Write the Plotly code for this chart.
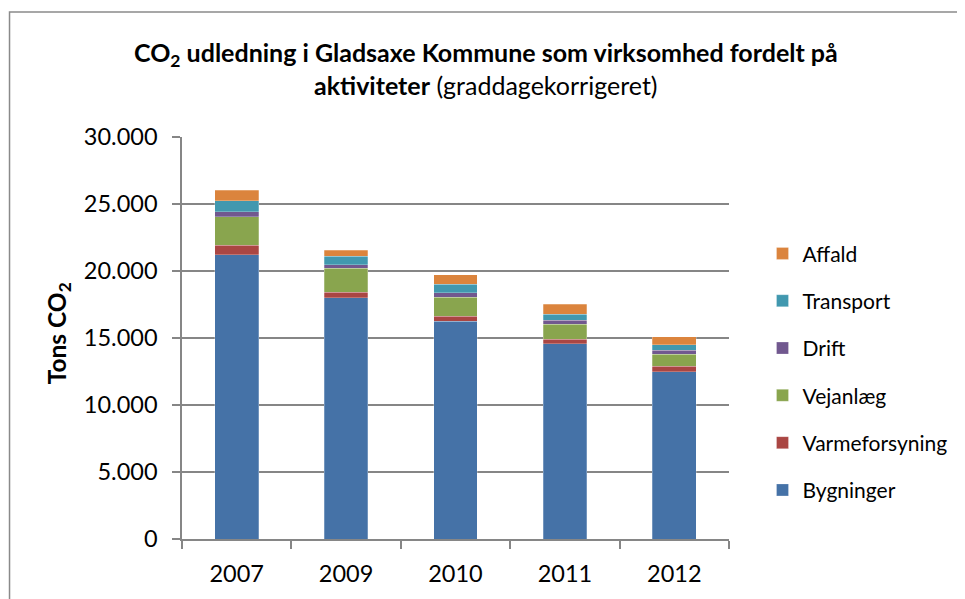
import plotly.graph_objects as go

years = ["2007", "2009", "2010", "2011", "2012"]
bygninger = [21200, 18000, 16250, 14570, 12500]
varmeforsyning = [740, 420, 370, 340, 410]
vejanlaeg = [2100, 1780, 1440, 1110, 890]
drift = [400, 270, 300, 300, 275]
transport = [790, 620, 670, 470, 420]
affald = [790, 450, 690, 740, 590]

series = [
    ("Bygninger", bygninger, "#4572A7"),
    ("Varmeforsyning", varmeforsyning, "#AA4643"),
    ("Vejanlæg", vejanlaeg, "#89A54E"),
    ("Drift", drift, "#71588F"),
    ("Transport", transport, "#4198AF"),
    ("Affald", affald, "#DB843D"),
]

FONT = "Lato"
fig = go.Figure()
n = len(series)
for i, (name, vals, col) in enumerate(series):
    fig.add_trace(go.Bar(
        x=years, y=vals, name=name, legendgroup=name, legendrank=n - i,
        marker=dict(color=col, line=dict(color="rgba(255,255,255,0.5)", width=0.5)),
    ))

# plot area in page (image) pixel coordinates; page has an 8px body offset
OFF = 8
L, R, T, B = 182, 737, 137, 542
W, H = R - L, B - T

def px(xp):
    return (xp - L) / W

def py(yp):
    return (B - yp) / H

fig.update_layout(
    width=965 - OFF, height=599 - OFF,
    margin=dict(l=L - OFF, r=965 - R, t=T - OFF, b=599 - B),
    barmode="stack", bargap=0.6,
    separators=",.",
    plot_bgcolor="white", paper_bgcolor="white",
    font=dict(family=FONT, color="black", size=21),
    showlegend=True,
    legend=dict(
        x=px(771), y=py(234), xanchor="left", yanchor="top",
        traceorder="grouped", tracegroupgap=17,
        font=dict(size=21, family=FONT), bgcolor="rgba(0,0,0,0)",
    ),
    xaxis=dict(
        showline=True, linecolor="#868686", linewidth=1.5,
        ticks="outside", ticklen=8, tickcolor="#868686", tickwidth=1.5,
        tickson="boundaries", showgrid=False, ticklabelstandoff=13,
        tickfont=dict(size=23.5, family=FONT),
    ),
    yaxis=dict(
        range=[0, 30000], tickvals=[0, 5000, 10000, 15000, 20000, 25000, 30000],
        tickformat=",d",
        showline=True, linecolor="#868686", linewidth=1.5,
        ticks="outside", ticklen=8, tickcolor="#868686", tickwidth=1.5,
        showgrid=True, gridcolor="#868686", gridwidth=1.5,
        zeroline=False, ticklabelstandoff=10,
        tickfont=dict(size=23.5, family=FONT),
    ),
    shapes=[dict(
        type="rect", xref="paper", yref="paper",
        x0=px(7), x1=px(985), y0=py(620), y1=py(11),
        line=dict(color="#8a8a8a", width=1.5), layer="below",
    )],
    annotations=[
        dict(text="<b>CO<sub>2</sub> udledning i Gladsaxe Kommune som virksomhed fordelt på</b>",
             xref="paper", yref="paper", x=px(490), y=py(53), xanchor="center", yanchor="middle",
             showarrow=False, font=dict(size=25, family=FONT)),
        dict(text="<b>aktiviteter</b> (graddagekorrigeret)",
             xref="paper", yref="paper", x=px(490), y=py(85), xanchor="center", yanchor="middle",
             showarrow=False, font=dict(size=25, family=FONT)),
        dict(text="<b>Tons CO<sub>2</sub></b>",
             xref="paper", yref="paper", x=px(57), y=py(335), xanchor="center", yanchor="middle",
             textangle=-90, showarrow=False, font=dict(size=24.5, family=FONT)),
    ],
)

fig.write_html("out.html")
